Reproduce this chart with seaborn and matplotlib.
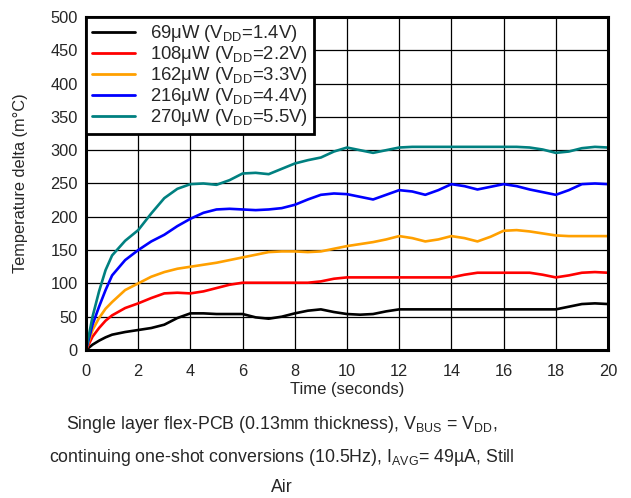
import numpy as np
import pandas as pd
import matplotlib
matplotlib.use("Agg")
import matplotlib.pyplot as plt
import seaborn as sns

# time axis (seconds) and temperature delta readings (m°C) per supply voltage
time_s = [0, 0.25, 0.5, 0.75, 1, 1.5, 2, 2.5, 3, 3.5, 4, 4.5, 5, 5.5, 6, 6.5, 7, 7.5,
          8, 8.5, 9, 9.5, 10, 10.5, 11, 11.5, 12, 12.5, 13, 13.5, 14, 14.5, 15, 15.5,
          16, 16.5, 17, 17.5, 18, 18.5, 19, 19.5, 20]

t_69uw = [0, 8, 14, 19, 23, 27, 30, 33, 38, 48, 55, 55, 54, 54, 54, 49, 47, 50,
          55, 59, 61, 57, 54, 53, 54, 58, 61, 61, 61, 61, 61, 61, 61, 61,
          61, 61, 61, 61, 61, 65, 69, 70, 69]
t_108uw = [0, 20, 33, 44, 52, 63, 70, 78, 85, 86, 85, 88, 93, 98, 101, 101, 101, 101,
           101, 101, 103, 107, 109, 109, 109, 109, 109, 109, 109, 109, 109, 113, 116, 116,
           116, 116, 116, 113, 109, 112, 116, 117, 116]
t_162uw = [0, 30, 48, 62, 72, 90, 100, 110, 117, 122, 125, 128, 131, 135, 139, 143, 147, 148,
           148, 147, 148, 152, 156, 159, 162, 166, 171, 168, 163, 166, 171, 168, 163, 170,
           179, 180, 178, 175, 172, 171, 171, 171, 171]
t_216uw = [0, 38, 65, 90, 112, 135, 150, 163, 173, 186, 197, 206, 211, 212, 211, 210, 211, 213,
           218, 226, 233, 235, 234, 230, 226, 233, 240, 238, 233, 240, 249, 246, 241, 245,
           249, 246, 241, 237, 233, 240, 249, 250, 249]
t_270uw = [0, 50, 88, 120, 142, 164, 180, 205, 228, 242, 249, 250, 248, 255, 265, 266, 264, 272,
           280, 285, 289, 298, 304, 300, 296, 300, 304, 305, 305, 305, 305, 305, 305, 305,
           305, 305, 304, 301, 296, 298, 303, 305, 304]

labels = [r"69$\mu$W (V$_\mathrm{DD}$=1.4V)",
          r"108$\mu$W (V$_\mathrm{DD}$=2.2V)",
          r"162$\mu$W (V$_\mathrm{DD}$=3.3V)",
          r"216$\mu$W (V$_\mathrm{DD}$=4.4V)",
          r"270$\mu$W (V$_\mathrm{DD}$=5.5V)"]
colors = ["black", "#ff0000", "#ffa000", "#0000ff", "#008080"]

series = [t_69uw, t_108uw, t_162uw, t_216uw, t_270uw]
df = pd.concat([pd.DataFrame({"time": time_s, "delta": s, "series": lab})
                for s, lab in zip(series, labels)], ignore_index=True)

sns.set_style("white")
plt.rcParams["font.family"] = ["Liberation Sans", "DejaVu Sans"]
plt.rcParams["mathtext.fontset"] = "custom"
plt.rcParams["mathtext.rm"] = "Liberation Sans"
plt.rcParams["mathtext.it"] = "Liberation Sans"
plt.rcParams["mathtext.default"] = "regular"

fig = plt.figure(figsize=(6.31, 4.98), dpi=100)
ax = fig.add_axes([0.1363, 0.2972, 0.8272, 0.6687])

sns.lineplot(data=df, x="time", y="delta", hue="series", hue_order=labels,
             palette=dict(zip(labels, colors)), linewidth=1.9, ax=ax)

ax.set_xlim(0, 20)
ax.set_ylim(0, 500)
ax.set_xticks(np.arange(0, 21, 2))
ax.set_yticks(np.arange(0, 501, 50))
ax.grid(True, color="black", linewidth=0.9)
ax.tick_params(labelsize=11.8, length=0)
ax.tick_params(axis="x", pad=10)
ax.tick_params(axis="y", pad=6)
for sp in ax.spines.values():
    sp.set_linewidth(2.2)
    sp.set_color("black")
ax.set_xlabel("Time (seconds)", fontsize=12, labelpad=2.5)
ax.set_ylabel("Temperature delta (m°C)", fontsize=11.8, labelpad=16)

leg = ax.legend(loc="upper left", borderaxespad=0, fontsize=13.3, fancybox=False,
                framealpha=1, edgecolor="black", handlelength=2.3, labelspacing=0.0,
                borderpad=0.33, handletextpad=0.85)
leg.get_frame().set_linewidth(2)
for ln in leg.get_lines():
    ln.set_linewidth(2)

caption = ("Single layer flex-PCB (0.13mm thickness), V$_\\mathrm{BUS}$ = V$_\\mathrm{DD}$,\n"
           "continuing one-shot conversions (10.5Hz), I$_\\mathrm{AVG}$= 49µA, Still\n"
           "Air")
fig.text(0.447, 0.0863, caption, ha="center", va="center", fontsize=12.8, linespacing=1.85)

fig.savefig("out.png", dpi=100)
